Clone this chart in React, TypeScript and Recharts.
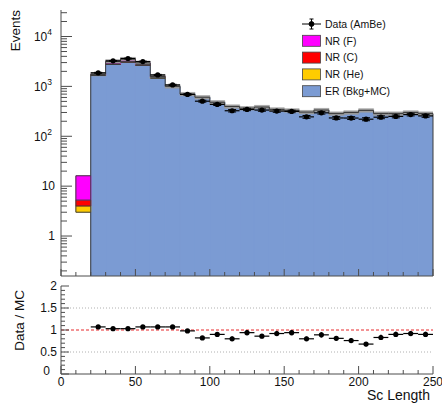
import {
  Bar,
  ComposedChart,
  ErrorBar,
  Legend,
  ReferenceLine,
  Scatter,
  XAxis,
  YAxis,
} from "recharts";

const FONT = '"Liberation Sans", Arial, Helvetica, sans-serif';
const INK = "#111";
const AXIS = "#4d4d4d";
const OUTLINE = "#3c3c3c";
const TICK_GAP = 6;

const ER_COLOR = "#7b9bd3";
const HE_COLOR = "#ffcc00";
const C_COLOR = "#ff0000";
const F_COLOR = "#ff00ff";

// histogram bins (lower edges), 10 wide
const binLow = [10, 20, 30, 40, 50, 60, 70, 80, 90, 100, 110, 120, 130, 140, 150, 160, 170, 180, 190, 200, 210, 220, 230, 240];
const binHalf = 5;

const erMC = [0, 1660, 2750, 3050, 2650, 1450, 1000, 700, 605, 480, 395, 365, 385, 345, 330, 305, 335, 285, 300, 330, 285, 285, 300, 285];
// empty space under the NR stack in the first bin (nothing drawn there)
const blankBelowNR = [3, 0, 0, 0, 0, 0, 0, 0, 0, 0, 0, 0, 0, 0, 0, 0, 0, 0, 0, 0, 0, 0, 0, 0];
const nrHe = [1, 25, 30, 40, 30, 90, 0, 0, 0, 0, 0, 0, 0, 0, 0, 0, 0, 0, 0, 0, 0, 0, 0, 0];
const nrC = [1.25, 10, 15, 20, 15, 15, 0, 0, 0, 0, 0, 0, 0, 0, 0, 0, 0, 0, 0, 0, 0, 0, 0, 0];
const nrF = [10.9, 60, 380, 420, 260, 30, 0, 0, 0, 0, 0, 0, 0, 0, 0, 0, 0, 0, 0, 0, 0, 0, 0, 0];
const mcRelUnc = [0, 0.08, 0.08, 0.08, 0.08, 0.08, 0.08, 0.08, 0.08, 0.08, 0.08, 0.08, 0.08, 0.08, 0.08, 0.08, 0.08, 0.08, 0.08, 0.08, 0.08, 0.08, 0.08, 0.08];

const dataCounts = [null, 1870, 3250, 3620, 3150, 1700, 1070, 690, 505, 435, 325, 345, 335, 320, 315, 245, 295, 233, 232, 220, 241, 250, 272, 256];
const dataErr = [null, 43, 57, 60, 56, 41, 33, 26, 22, 21, 18, 19, 18, 18, 18, 16, 17, 15, 15, 15, 16, 16, 16, 16];

const ratio = [null, 1.07, 1.03, 1.03, 1.07, 1.07, 1.07, 0.98, 0.82, 0.9, 0.8, 0.94, 0.86, 0.92, 0.94, 0.8, 0.89, 0.81, 0.76, 0.68, 0.83, 0.9, 0.92, 0.9];
const ratioErr = [null, 0.03, 0.02, 0.02, 0.02, 0.03, 0.04, 0.04, 0.04, 0.05, 0.05, 0.06, 0.05, 0.06, 0.06, 0.05, 0.06, 0.05, 0.05, 0.05, 0.06, 0.06, 0.06, 0.06];

// axes
const xDomain: [number, number] = [0, 250];
const xTicks = [0, 10, 20, 30, 40, 50, 60, 70, 80, 90, 100, 110, 120, 130, 140, 150, 160, 170, 180, 190, 200, 210, 220, 230, 240, 250];
const xLabelValues = [0, 50, 100, 150, 200, 250];

const yFloor = 0.158;
const yCeil = 34000;
const decades = [0.1, 1, 10, 100, 1000, 10000];
const decadeSteps = [1, 2, 3, 4, 5, 6, 7, 8, 9];
const labelledDecades = [1, 10, 100, 1000, 10000];
const decadeLabels = [["1", ""], ["10", ""], ["10", "2"], ["10", "3"], ["10", "4"]];
const topTicks = decades
  .flatMap((d) => decadeSteps.map((s) => +(d * s).toPrecision(3)))
  .filter((v) => v >= yFloor && v <= yCeil);

const ratioTicks = [0, 0.1, 0.2, 0.3, 0.4, 0.5, 0.6, 0.7, 0.8, 0.9, 1, 1.1, 1.2, 1.3, 1.4, 1.5, 1.6, 1.7, 1.8, 1.9, 2];
const ratioLabelValues = [0, 0.5, 1, 1.5, 2];
const ratioLabels = ["0", "0.5", "1", "1.5", "2"];

const legendItems = [
  { name: "Data (AmBe)", color: "" },
  { name: "NR (F)", color: F_COLOR },
  { name: "NR (C)", color: C_COLOR },
  { name: "NR (He)", color: HE_COLOR },
  { name: "ER (Bkg+MC)", color: ER_COLOR },
];

// tables built from the arrays above
const histRows = binLow.map((lo, i) => {
  const tot = erMC[i] + blankBelowNR[i] + nrHe[i] + nrC[i] + nrF[i];
  return {
    x: lo + binHalf,
    er: erMC[i],
    blank: blankBelowNR[i],
    he: nrHe[i],
    c: nrC[i],
    f: nrF[i],
    tot,
    unc: mcRelUnc[i] > 0 ? [tot * (1 - mcRelUnc[i]), tot * (1 + mcRelUnc[i])] : null,
  };
});

const dataRows = binLow
  .map((lo, i) => ({ x: lo + binHalf, y: dataCounts[i], yErr: dataErr[i], xErr: binHalf }))
  .filter((r) => r.y != null);

const ratioRows = binLow
  .map((lo, i) => ({ x: lo + binHalf, y: ratio[i], yErr: ratioErr[i], xErr: binHalf }))
  .filter((r) => r.y != null);

// step contours of the stacked histograms
type Seg = [{ x: number; y: number }, { x: number; y: number }];
const outlineSegs: Seg[] = [];
histRows.forEach((r, i) => {
  const lo = binLow[i];
  const hi = lo + 2 * binHalf;
  const levels: number[] = [];
  if (r.blank > 0) levels.push(r.blank);
  let acc = r.er + r.blank;
  if (r.er > 0) levels.push(acc);
  [r.he, r.c, r.f].forEach((v) => {
    acc += v;
    if (v > 0) levels.push(acc);
  });
  levels.forEach((y) => outlineSegs.push([{ x: lo, y }, { x: hi, y }]));
});
const bottomOf = (r: (typeof histRows)[number]) => (r.er > 0 ? yFloor : r.blank);
for (let i = 0; i <= histRows.length; i++) {
  const left = histRows[i - 1];
  const right = histRows[i];
  const xe = i < histRows.length ? binLow[i] : binLow[i - 1] + 2 * binHalf;
  let y0: number;
  let y1: number;
  if (!left) {
    y0 = bottomOf(right);
    y1 = right.tot;
  } else if (!right) {
    y0 = bottomOf(left);
    y1 = left.tot;
  } else if (left.er > 0 !== right.er > 0) {
    y0 = yFloor;
    y1 = Math.max(left.tot, right.tot);
  } else {
    y0 = Math.min(left.tot, right.tot);
    y1 = Math.max(left.tot, right.tot);
  }
  outlineSegs.push([{ x: xe, y: y0 }, { x: xe, y: y1 }]);
}

const dot = (p: any) =>
  Number.isFinite(p.cx) && Number.isFinite(p.cy) ? (
    <circle cx={p.cx} cy={p.cy} r={2.6} fill="#000" />
  ) : (
    <g />
  );

function LogYTick(props: any) {
  const { x, y, payload } = props;
  const ax = x + TICK_GAP;
  const idx = labelledDecades.indexOf(payload.value);
  const sup = idx >= 0 ? decadeLabels[idx][1] : "";
  return (
    <g>
      <line x1={ax} x2={ax + (idx >= 0 ? 11 : 6)} y1={y} y2={y} stroke={AXIS} />
      {idx >= 0 && (
        <text
          x={ax - (sup ? 9 : 6)}
          y={y + 4.3}
          textAnchor="end"
          fontSize={12}
          fontFamily={FONT}
          fill={INK}
        >
          {decadeLabels[idx][0]}
          {sup && (
            <tspan fontSize={8.5} dy={-5.5}>
              {sup}
            </tspan>
          )}
        </text>
      )}
    </g>
  );
}

function TopXTick(props: any) {
  const { x, y, payload } = props;
  const ay = y - TICK_GAP;
  const major = xLabelValues.includes(payload.value);
  return <line x1={x} x2={x} y1={ay} y2={ay - (major ? 7 : 4)} stroke={AXIS} />;
}

function RatioYTick(props: any) {
  const { x, y, payload } = props;
  const ax = x + TICK_GAP;
  const idx = ratioLabelValues.indexOf(payload.value);
  // ROOT nudges the bottom label up and left, away from the x axis "0"
  const atOrigin = payload.value === 0;
  return (
    <g>
      <line x1={ax} x2={ax + (idx >= 0 ? 8 : 4)} y1={y} y2={y} stroke={AXIS} />
      {idx >= 0 && (
        <text
          x={ax - (atOrigin ? 11 : 4)}
          y={y + (atOrigin ? 0.5 : 4.3)}
          textAnchor="end"
          fontSize={12}
          fontFamily={FONT}
          fill={INK}
        >
          {ratioLabels[idx]}
        </text>
      )}
    </g>
  );
}

function RatioXTick(props: any) {
  const { x, y, payload } = props;
  const ay = y - TICK_GAP;
  const major = xLabelValues.includes(payload.value);
  return (
    <g>
      <line x1={x} x2={x} y1={ay} y2={ay - (major ? 8 : 4)} stroke={AXIS} />
      {major && (
        <text x={x} y={ay + 11.5} textAnchor="middle" fontSize={12} fontFamily={FONT} fill={INK}>
          {payload.value}
        </text>
      )}
    </g>
  );
}

function LegendBox() {
  return (
    <svg width={150} height={86} style={{ display: "block" }}>
      {legendItems.map((it, i) => {
        const cy = 8 + i * 16.8;
        return (
          <g key={it.name}>
            {it.color ? (
              <rect x={0.5} y={cy - 5.5} width={18} height={11} fill={it.color} stroke="#444" strokeWidth={0.8} />
            ) : (
              <g stroke="#000" strokeWidth={1}>
                <line x1={0} x2={19} y1={cy} y2={cy} />
                <line x1={9.5} x2={9.5} y1={cy - 5} y2={cy + 5} />
                <line x1={7.5} x2={11.5} y1={cy - 5} y2={cy - 5} />
                <line x1={7.5} x2={11.5} y1={cy + 5} y2={cy + 5} />
                <circle cx={9.5} cy={cy} r={2.4} fill="#000" />
              </g>
            )}
            <text x={23} y={cy + 3.7} fontSize={10.5} fontFamily={FONT} fill={INK}>
              {it.name}
            </text>
          </g>
        );
      })}
    </svg>
  );
}

export default function App() {
  return (
    <div style={{ position: "absolute", left: 0, top: 0, width: 442, height: 407, background: "#fff" }}>
      <div style={{ position: "absolute", left: 0, top: 0 }}>
        <ComposedChart
          width={442}
          height={280}
          data={histRows}
          margin={{ top: 10, right: 9, left: 0, bottom: 0 }}
          barCategoryGap={0}
          barGap={0}
        >
          <XAxis
            dataKey="x"
            type="number"
            domain={xDomain}
            allowDataOverflow
            ticks={xTicks}
            interval={0}
            height={4}
            tickSize={0}
            tickMargin={TICK_GAP}
            tickLine={false}
            tick={(p: any) => <TopXTick {...p} />}
            axisLine={{ stroke: AXIS }}
          />
          <XAxis xAxisId="unc" dataKey="x" type="number" domain={xDomain} allowDataOverflow hide />
          <XAxis
            xAxisId="frameTop"
            orientation="top"
            type="number"
            domain={xDomain}
            height={0}
            tick={false}
            tickLine={false}
            axisLine={{ stroke: AXIS }}
          />
          <YAxis
            type="number"
            scale="log"
            domain={[yFloor, yCeil]}
            allowDataOverflow
            ticks={topTicks}
            interval={0}
            width={61}
            tickSize={0}
            tickMargin={TICK_GAP}
            tickLine={false}
            tick={(p: any) => <LogYTick {...p} />}
            axisLine={{ stroke: AXIS }}
            label={(p: any) => (
              <text
                x={19.5}
                y={p.viewBox.y}
                transform={`rotate(-90 19.5 ${p.viewBox.y})`}
                textAnchor="end"
                fontSize={13.5}
                fontFamily={FONT}
                fill={INK}
              >
                Events
              </text>
            )}
          />
          <YAxis
            yAxisId="frameRight"
            orientation="right"
            type="number"
            domain={[0, 1]}
            width={0}
            tick={false}
            tickLine={false}
            axisLine={{ stroke: AXIS }}
          />
          <Bar dataKey="er" stackId="mc" name="ER (Bkg+MC)" fill={ER_COLOR} stroke={ER_COLOR} isAnimationActive={false} />
          <Bar dataKey="blank" stackId="mc" fill="none" stroke="none" legendType="none" isAnimationActive={false} />
          <Bar dataKey="he" stackId="mc" name="NR (He)" fill={HE_COLOR} stroke={HE_COLOR} strokeWidth={0.6} isAnimationActive={false} />
          <Bar dataKey="c" stackId="mc" name="NR (C)" fill={C_COLOR} stroke={C_COLOR} strokeWidth={0.6} isAnimationActive={false} />
          <Bar dataKey="f" stackId="mc" name="NR (F)" fill={F_COLOR} stroke={F_COLOR} strokeWidth={0.6} isAnimationActive={false} />
          <Bar
            xAxisId="unc"
            dataKey={(r: any) => r.unc}
            fill="#9a9a9a"
            stroke="#9a9a9a"
            strokeWidth={0.6}
            legendType="none"
            isAnimationActive={false}
          />
          {outlineSegs.map((s, i) => (
            <ReferenceLine key={i} segment={s} stroke={OUTLINE} strokeWidth={1} ifOverflow="visible" />
          ))}
          <Scatter data={dataRows} dataKey="y" name="Data (AmBe)" shape={dot} isAnimationActive={false}>
            <ErrorBar dataKey="yErr" direction="y" width={4} stroke="#000" strokeWidth={1} />
            <ErrorBar dataKey="xErr" direction="x" width={0} stroke="#000" strokeWidth={1.2} />
          </Scatter>
          <Legend
            layout="horizontal"
            verticalAlign="middle"
            align="center"
            wrapperStyle={{ left: 302, top: 16, width: 150 }}
            content={() => <LegendBox />}
          />
        </ComposedChart>
      </div>
      <div style={{ position: "absolute", left: 0, top: 280 }}>
        <ComposedChart width={442} height={127} data={ratioRows} margin={{ top: 6, right: 9, left: 0, bottom: 0 }}>
          <XAxis
            dataKey="x"
            type="number"
            domain={xDomain}
            allowDataOverflow
            ticks={xTicks}
            interval={0}
            height={33}
            tickSize={0}
            tickMargin={TICK_GAP}
            tickLine={false}
            tick={(p: any) => <RatioXTick {...p} />}
            axisLine={{ stroke: AXIS }}
            label={(p: any) => (
              <text
                x={p.viewBox.x + p.viewBox.width - 3}
                y={p.viewBox.y + 26}
                textAnchor="end"
                fontSize={14}
                fontFamily={FONT}
                fill={INK}
              >
                Sc Length
              </text>
            )}
          />
          <XAxis
            xAxisId="frameTop"
            orientation="top"
            type="number"
            domain={xDomain}
            height={0}
            tick={false}
            tickLine={false}
            axisLine={{ stroke: AXIS }}
          />
          <YAxis
            type="number"
            domain={[0, 2]}
            allowDataOverflow
            ticks={ratioTicks}
            interval={0}
            width={61}
            tickSize={0}
            tickMargin={TICK_GAP}
            tickLine={false}
            tick={(p: any) => <RatioYTick {...p} />}
            axisLine={{ stroke: AXIS }}
            label={(p: any) => (
              <text
                x={24}
                y={p.viewBox.y + 4}
                transform={`rotate(-90 24 ${p.viewBox.y + 4})`}
                textAnchor="end"
                fontSize={13.5}
                fontFamily={FONT}
                fill={INK}
              >
                Data / MC
              </text>
            )}
          />
          <YAxis
            yAxisId="frameRight"
            orientation="right"
            type="number"
            domain={[0, 1]}
            width={0}
            tick={false}
            tickLine={false}
            axisLine={{ stroke: AXIS }}
          />
          <ReferenceLine y={0.5} stroke="#b0b0b0" strokeDasharray="1 2" />
          <ReferenceLine y={1.5} stroke="#b0b0b0" strokeDasharray="1 2" />
          <ReferenceLine y={1} stroke="#e8262b" strokeDasharray="3 2" />
          <Scatter dataKey="y" shape={dot} isAnimationActive={false}>
            <ErrorBar dataKey="yErr" direction="y" width={0} stroke="#000" strokeWidth={1.6} />
            <ErrorBar dataKey="xErr" direction="x" width={0} stroke="#000" strokeWidth={1.2} />
          </Scatter>
        </ComposedChart>
      </div>
    </div>
  );
}
